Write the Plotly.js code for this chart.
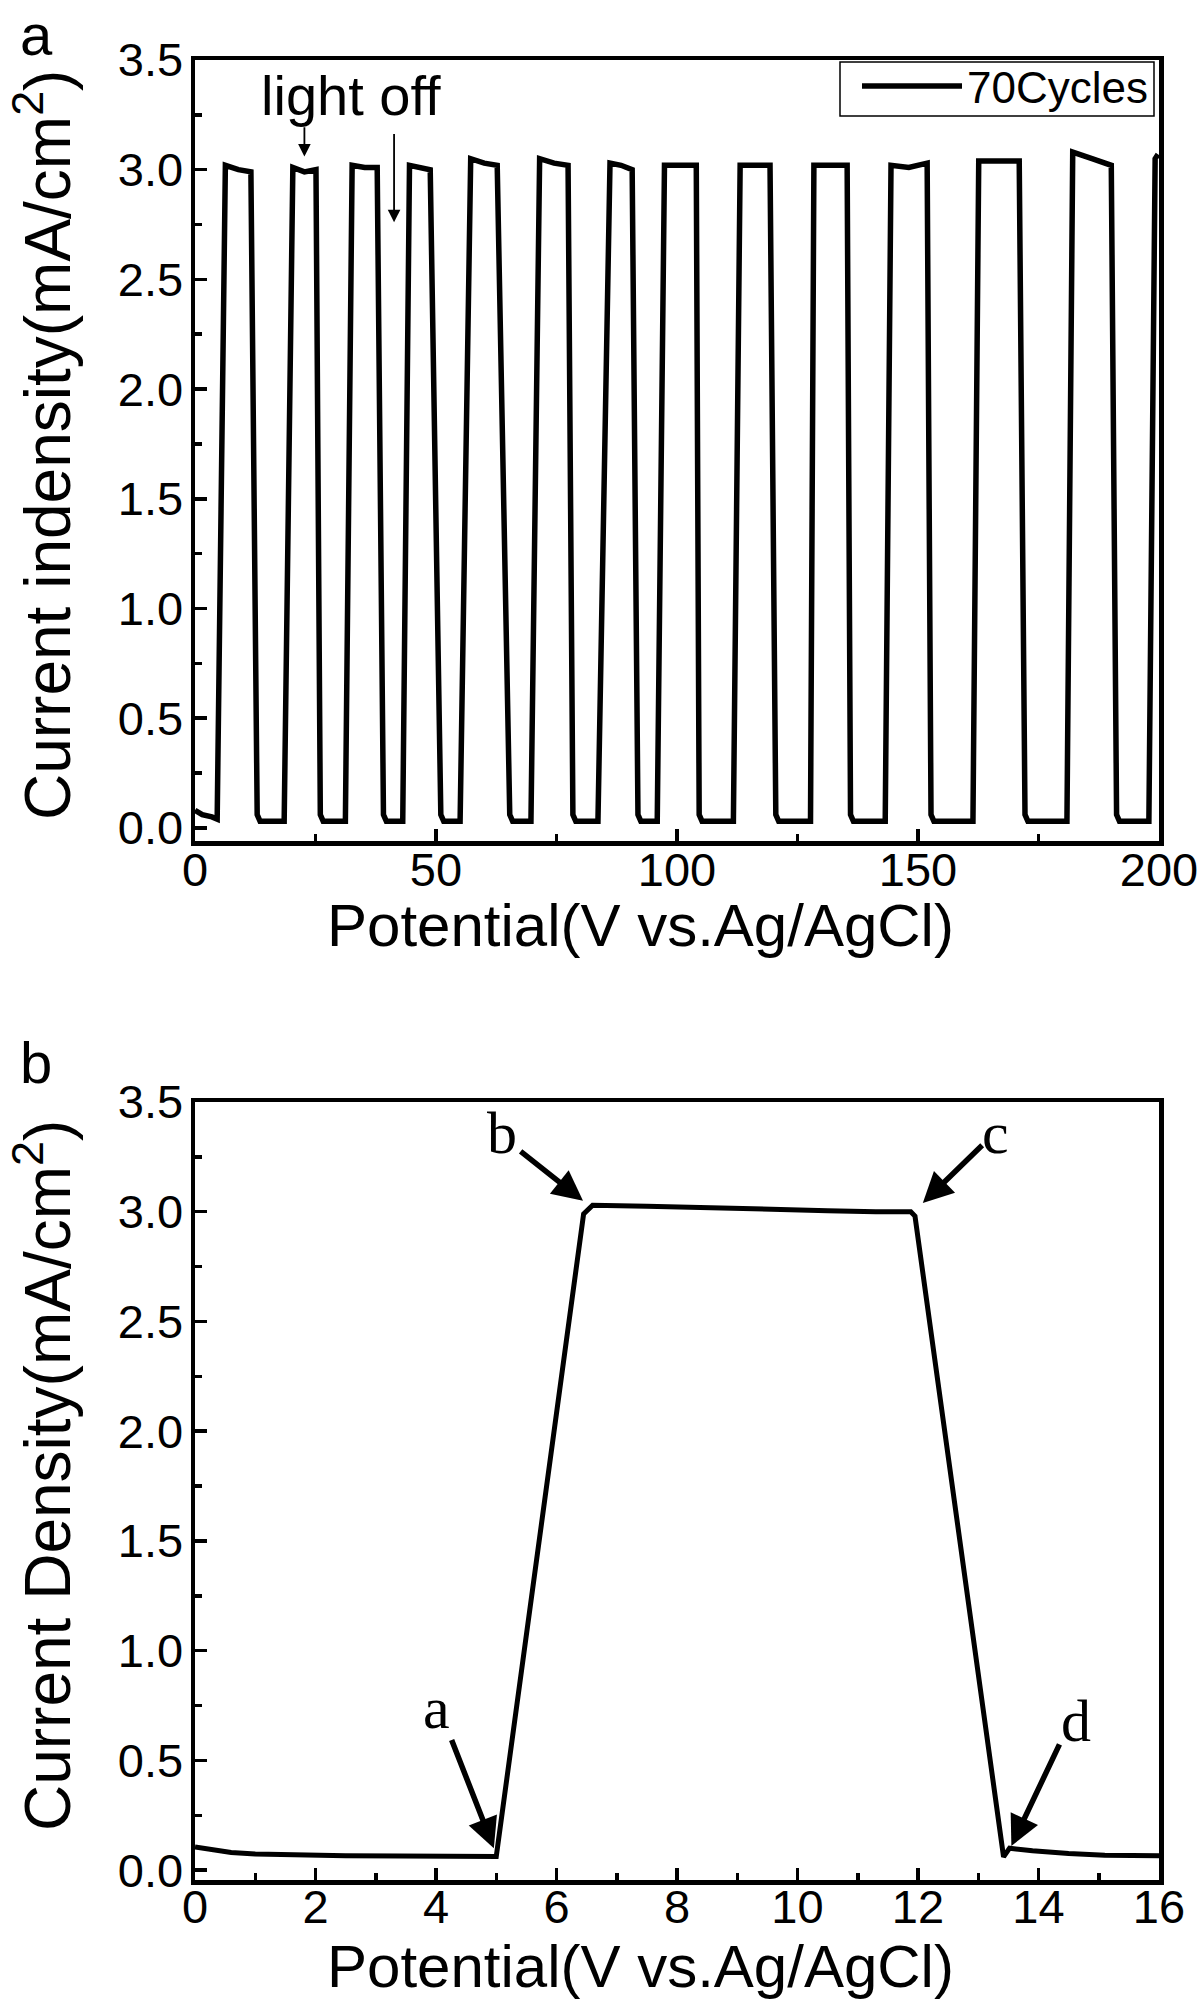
<!DOCTYPE html>
<html>
<head>
<meta charset="utf-8">
<script src="https://cdn.plot.ly/plotly-3.0.1.min.js"></script>
<style>body{margin:0;background:#fff}#chart{width:1200px;height:2005px}</style>
</head>
<body>
<div id="chart"></div>
<script>
// Panel a: chopped-light current, 70 cycles
const topX = [0, 1.5, 3.5, 4.6,
  6.3, 9.0, 11.6, 12.9, 13.5,
  18.5, 20.3, 22.7, 25.1, 26.0, 26.6,
  31.2, 32.6, 35.2, 37.8, 39.1, 39.7,
  43.1, 44.5, 46.6, 48.8, 51.0, 51.6,
  55.0, 57.2, 60.0, 62.7, 65.3, 65.9,
  69.7, 71.5, 74.5, 77.4, 78.4, 79.0,
  83.6, 86.1, 88.4, 90.7, 91.9, 92.5,
  95.9, 97.4, 100.7, 104.0, 104.6, 105.2,
  111.7, 113.1, 116.2, 119.3, 120.5, 121.1,
  127.7, 128.4, 131.8, 135.3, 136.0, 136.6,
  143.2, 144.4, 148.1, 151.9, 152.7, 153.3,
  161.4, 162.6, 166.8, 171.0, 172.2, 172.8,
  180.9, 182.1, 186.1, 190.1, 191.2, 191.8,
  197.9, 199.2, 199.8];
const topY = [0.08, 0.06, 0.05, 0.04,
  3.02, 3.00, 2.99, 0.06, 0.03,
  0.03, 3.01, 2.99, 3.00, 0.06, 0.03,
  0.03, 3.02, 3.01, 3.01, 0.06, 0.03,
  0.03, 3.02, 3.01, 3.00, 0.06, 0.03,
  0.03, 3.05, 3.03, 3.02, 0.06, 0.03,
  0.03, 3.05, 3.03, 3.02, 0.06, 0.03,
  0.03, 3.03, 3.02, 3.00, 0.06, 0.03,
  0.03, 3.02, 3.02, 3.02, 0.06, 0.03,
  0.03, 3.02, 3.02, 3.02, 0.06, 0.03,
  0.03, 3.02, 3.02, 3.02, 0.06, 0.03,
  0.03, 3.02, 3.01, 3.03, 0.06, 0.03,
  0.03, 3.04, 3.04, 3.04, 0.06, 0.03,
  0.03, 3.08, 3.05, 3.02, 0.06, 0.03,
  0.03, 3.05, 3.07];

// Panel b: one on/off cycle
const botX = [0, 0.3, 0.6, 1.0, 1.7, 2.5, 3.4, 4.2, 5.0, 6.45, 6.6, 7.5, 8.5, 9.5, 10.5, 11.3, 11.88, 11.95, 13.42, 13.52, 13.9, 14.5, 15.1, 16];
const botY = [0.105, 0.09, 0.08, 0.074, 0.069, 0.066, 0.064, 0.063, 0.062, 2.99, 3.03, 3.025, 3.02, 3.01, 3.005, 3.0, 3.0, 2.98, 0.06, 0.10, 0.088, 0.076, 0.068, 0.065];

const seriesName = '70Cycles';
const xTitle = 'Potential(V vs.Ag/AgCl)';
const yTitleA = 'Current indensity(mA/cm<sup>2</sup>)';
const yTitleB = 'Current Density(mA/cm<sup>2</sup>)';
const pointLabels = ['a', 'b', 'c', 'd'];
const pointText = [[4.0, 0.74], [5.10, 3.36], [13.28, 3.36], [14.62, 0.68]];
const arrowTail = [[4.25, 0.60], [5.38, 3.28], [13.09, 3.31], [14.36, 0.58]];
const arrowHead = [[4.96, 0.10], [6.44, 3.05], [12.08, 3.04], [13.55, 0.11]];

const SANS = 'Liberation Sans, Arial, sans-serif';
const SERIF = 'Liberation Serif, Times New Roman, serif';
const PW = 1200, PH = 2005;

function axisCommon(extra) {
  return Object.assign({
    showline: true, linewidth: 4.5, linecolor: 'black', mirror: true,
    ticks: 'inside', ticklen: 12, tickwidth: 3.5, tickcolor: 'black',
    showgrid: false, zeroline: false,
    tickfont: {family: SANS, size: 47, color: 'black'},
    fixedrange: true
  }, extra);
}
function minorTicks(d) {
  return {dtick: d, tick0: 0, ticks: 'inside', ticklen: 7, tickwidth: 3.5, tickcolor: 'black', showgrid: false};
}

const traces = [
  {x: topX, y: topY, type: 'scatter', mode: 'lines', name: seriesName,
   line: {color: 'black', width: 5.5}, xaxis: 'x', yaxis: 'y', showlegend: true},
  {x: botX, y: botY, type: 'scatter', mode: 'lines', name: 'cycle',
   line: {color: 'black', width: 5}, xaxis: 'x2', yaxis: 'y2', showlegend: false}
];

const annotations = [
  {xref: 'paper', yref: 'paper', x: 36/PW, y: 1, text: 'a', showarrow: false,
   font: {family: SANS, size: 58, color: 'black'}, xanchor: 'center', yanchor: 'top'},
  {xref: 'paper', yref: 'paper', x: 36/PW, y: 1 - 1062/PH, text: 'b', showarrow: false,
   font: {family: SANS, size: 58, color: 'black'}, xanchor: 'center', yanchor: 'middle'},
  {xref: 'paper', yref: 'paper', x: 640/PW, y: 1 - 926/PH, text: xTitle, showarrow: false,
   font: {family: SANS, size: 60, color: 'black'}, xanchor: 'center', yanchor: 'middle'},
  {xref: 'paper', yref: 'paper', x: 640/PW, y: 1 - 1966/PH, text: xTitle, showarrow: false,
   font: {family: SANS, size: 60, color: 'black'}, xanchor: 'center', yanchor: 'middle'},
  {xref: 'paper', yref: 'paper', x: 43/PW, y: 1 - 445/PH, text: yTitleA, showarrow: false, textangle: -90,
   font: {family: SANS, size: 64, color: 'black'}, xanchor: 'center', yanchor: 'middle'},
  {xref: 'paper', yref: 'paper', x: 43/PW, y: 1 - 1476/PH, text: yTitleB, showarrow: false, textangle: -90,
   font: {family: SANS, size: 64, color: 'black'}, xanchor: 'center', yanchor: 'middle'},
  // panel a: "light off" markers
  {xref: 'x', yref: 'y', x: 32.4, y: 3.34, text: 'light off', showarrow: false,
   font: {family: SANS, size: 56, color: 'black'}, xanchor: 'center', yanchor: 'middle'},
  {xref: 'x', yref: 'y', axref: 'x', ayref: 'y', x: 22.7, y: 3.06, ax: 22.7, ay: 3.2, text: '',
   showarrow: true, arrowhead: 2, arrowsize: 1.4, arrowwidth: 1.8, arrowcolor: 'black'},
  {xref: 'x', yref: 'y', axref: 'x', ayref: 'y', x: 41.3, y: 2.76, ax: 41.3, ay: 3.17, text: '',
   showarrow: true, arrowhead: 2, arrowsize: 1.4, arrowwidth: 1.8, arrowcolor: 'black'}
];
for (let i = 0; i < pointLabels.length; i++) {
  annotations.push({xref: 'x2', yref: 'y2', x: pointText[i][0], y: pointText[i][1], text: pointLabels[i],
    showarrow: false, font: {family: SERIF, size: 60, color: 'black'}, xanchor: 'center', yanchor: 'middle'});
  annotations.push({xref: 'x2', yref: 'y2', axref: 'x2', ayref: 'y2',
    x: arrowHead[i][0], y: arrowHead[i][1], ax: arrowTail[i][0], ay: arrowTail[i][1], text: '',
    showarrow: true, arrowhead: 2, arrowsize: 1.1, arrowwidth: 5.5, arrowcolor: 'black'});
}

const shapes = [
  // legend frame
  {type: 'rect', xref: 'paper', yref: 'paper', x0: 840/PW, x1: 1154/PW, y0: 1 - 116/PH, y1: 1 - 62/PH,
   line: {color: 'black', width: 1.5}, fillcolor: 'rgba(0,0,0,0)', layer: 'above'}
];

const layout = {
  width: PW, height: PH,
  margin: {l: 0, r: 0, t: 0, b: 0},
  paper_bgcolor: 'white', plot_bgcolor: 'white',
  font: {family: SANS, color: 'black'},
  showlegend: true,
  legend: {x: 1153/PW, y: 1 - 51/PH, xanchor: 'right', yanchor: 'top',
    bgcolor: 'rgba(0,0,0,0)', borderwidth: 0,
    font: {family: SANS, size: 44, color: 'black'}, itemwidth: 100},
  xaxis: axisCommon({domain: [195/PW, 1159/PW], range: [0, 200], dtick: 50, tick0: 0,
    minor: minorTicks(25), ticklabelstandoff: -16, anchor: 'y'}),
  yaxis: axisCommon({domain: [1 - 841/PH, 1 - 60/PH], range: [-0.06, 3.5], dtick: 0.5, tick0: 0,
    tickformat: '.1f', minor: minorTicks(0.25), ticklabelstandoff: -2, anchor: 'x'}),
  xaxis2: axisCommon({domain: [195/PW, 1159/PW], range: [0, 16], dtick: 2, tick0: 0,
    minor: minorTicks(1), ticklabelstandoff: -18, anchor: 'y2'}),
  yaxis2: axisCommon({domain: [1 - 1880/PH, 1 - 1102/PH], range: [-0.045, 3.5], dtick: 0.5, tick0: 0,
    tickformat: '.1f', minor: minorTicks(0.25), ticklabelstandoff: -2, anchor: 'x2'}),
  annotations: annotations,
  shapes: shapes
};

Plotly.newPlot('chart', traces, layout, {staticPlot: true, displayModeBar: false});
</script>
</body>
</html>
